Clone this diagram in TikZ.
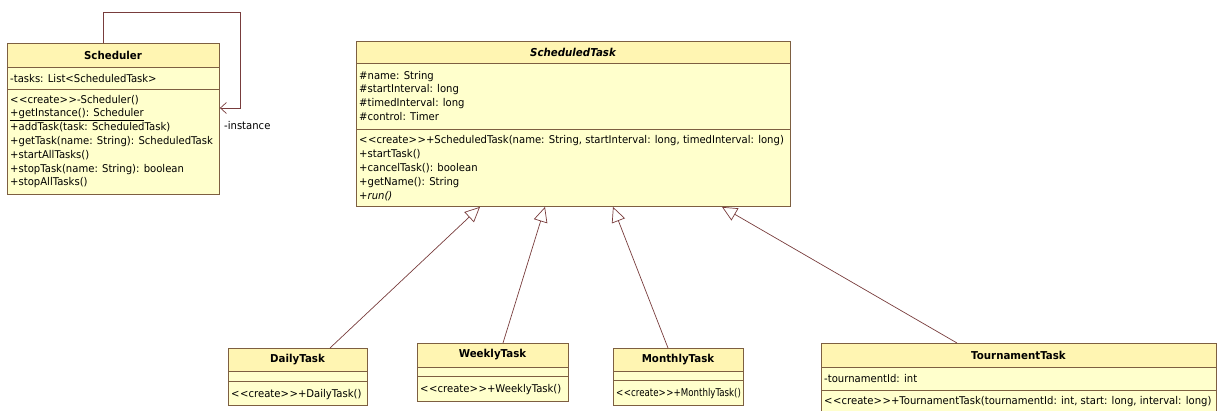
\documentclass[tikz,border=0pt]{standalone}
\usepackage{fontspec}
\setmainfont[FakeStretch=0.94]{DejaVu Sans}
\usetikzlibrary{arrows.meta,calc}
\definecolor{bodyfill}{RGB}{255,255,204}
\definecolor{titlefill}{RGB}{255,245,178}
\definecolor{boxline}{RGB}{125,95,65}
\definecolor{conn}{RGB}{120,60,60}
\newcommand\crt{\textless\kern0.6pt\textless create\textgreater\kern0.6pt\textgreater}
\tikzset{
  classbox/.style={draw=boxline, line width=0.9pt, fill=bodyfill, anchor=north west, inner sep=0pt},
  band/.style={fill=titlefill},
  sep/.style={draw=boxline, line width=0.9pt},
  ttl/.style={font=\fontsize{10.9}{12}\selectfont\bfseries, inner sep=0pt},
  txt/.style={font=\fontsize{10.7}{13.8}\selectfont, inner sep=0pt, anchor=base west, align=left},
  gen/.style={draw=conn, line width=0.7pt, -{Triangle[open, length=15pt, width=14pt]}},
  assoc/.style={draw=conn, line width=0.7pt, -{Straight Barb[length=6pt, width=11pt]}},
}
\begin{document}
\begin{tikzpicture}[x=1pt,y=-1pt]
\useasboundingbox (0,0) rectangle (1218,410);
% ---------- Scheduler ----------
\node[classbox, minimum width=212pt, minimum height=151pt] (sched) at (7,43) {};
\fill[band] (sched.north west) rectangle ($(sched.north east)+(0,24)$);
\draw[sep] ($(sched.north west)+(0,24)$) -- ($(sched.north east)+(0,24)$);
\draw[sep] ($(sched.north west)+(0,46)$) -- ($(sched.north east)+(0,46)$);
\draw[sep] (sched.north west) rectangle (sched.south east);
\node[ttl] (schedT) at (113,55) {Scheduler};
\node[txt] (schedA) at (10,82) {-tasks: List\textless ScheduledTask\textgreater};
% base anchor = baseline of the last line
\node[txt] (schedM) at (10,185.8) {\crt-Scheduler()\\
\underline{+getInstance(): Scheduler}\\
+addTask(task: ScheduledTask)\\
+getTask(name: String): ScheduledTask\\
+startAllTasks()\\
+stopTask(name: String): boolean\\
+stopAllTasks()};
% self association
\coordinate (loopR) at (240,12);
\draw[assoc] ($(sched.north west)+(96,0)$) |- (loopR) |- ($(sched.north east)+(0,65)$);
\node[txt, anchor=west] (inst) at (224,126) {-instance};
% ---------- ScheduledTask ----------
\node[classbox, minimum width=434pt, minimum height=165pt] (st) at (356,41) {};
\fill[band] (st.north west) rectangle ($(st.north east)+(0,22)$);
\draw[sep] ($(st.north west)+(0,22)$) -- ($(st.north east)+(0,22)$);
\draw[sep] ($(st.north west)+(0,88)$) -- ($(st.north east)+(0,88)$);
\draw[sep] (st.north west) rectangle (st.south east);
\node[ttl] (stT) at (573,52) {\itshape ScheduledTask};
\node[txt, font=\fontsize{10.7}{13.7}\selectfont] (stA) at (359,120.1) {\#name: String\\
\#startInterval: long\\
\#timedInterval: long\\
\#control: Timer};
\node[txt, font=\fontsize{10.7}{14}\selectfont] (stM) at (359,199) {\crt+ScheduledTask(name: String, startInterval: long, timedInterval: long)\\
+startTask()\\
+cancelTask(): boolean\\
+getName(): String\\
\textit{+run()}};
% ---------- DailyTask ----------
\node[classbox, minimum width=139pt, minimum height=57pt] (daily) at (228,348) {};
\fill[band] (daily.north west) rectangle ($(daily.north east)+(0,23)$);
\draw[sep] ($(daily.north west)+(0,23)$) -- ($(daily.north east)+(0,23)$);
\draw[sep] ($(daily.north west)+(0,33)$) -- ($(daily.north east)+(0,33)$);
\draw[sep] (daily.north west) rectangle (daily.south east);
\node[ttl] (dailyT) at (297.5,359.5) {DailyTask};
\node[txt] (dailyM) at (231,397) {\crt+DailyTask()};
% ---------- WeeklyTask ----------
\node[classbox, minimum width=151pt, minimum height=58pt] (weekly) at (417,343) {};
\fill[band] (weekly.north west) rectangle ($(weekly.north east)+(0,24)$);
\draw[sep] ($(weekly.north west)+(0,24)$) -- ($(weekly.north east)+(0,24)$);
\draw[sep] ($(weekly.north west)+(0,33)$) -- ($(weekly.north east)+(0,33)$);
\draw[sep] (weekly.north west) rectangle (weekly.south east);
\node[ttl] (weeklyT) at (492.5,355) {WeeklyTask};
\node[txt] (weeklyM) at (420,392.5) {\crt+WeeklyTask()};
% ---------- MonthlyTask ----------
\node[classbox, minimum width=130pt, minimum height=57pt] (monthly) at (613,348) {};
\fill[band] (monthly.north west) rectangle ($(monthly.north east)+(0,23)$);
\draw[sep] ($(monthly.north west)+(0,23)$) -- ($(monthly.north east)+(0,23)$);
\draw[sep] ($(monthly.north west)+(0,32)$) -- ($(monthly.north east)+(0,32)$);
\draw[sep] (monthly.north west) rectangle (monthly.south east);
\node[ttl] (monthlyT) at (678,359.5) {MonthlyTask};
\node[txt, xscale=0.86, transform shape] (monthlyM) at (616,396.5) {\crt+MonthlyTask()};
% ---------- TournamentTask ----------
\node[classbox, minimum width=395pt, minimum height=69pt] (tour) at (821,343) {};
\fill[band] (tour.north west) rectangle ($(tour.north east)+(0,24)$);
\draw[sep] ($(tour.north west)+(0,24)$) -- ($(tour.north east)+(0,24)$);
\draw[sep] ($(tour.north west)+(0,47)$) -- ($(tour.north east)+(0,47)$);
\draw[sep] (tour.north west) rectangle (tour.south east);
\node[ttl] (tourT) at (1018.5,355) {TournamentTask};
\node[txt] (tourA) at (824,382.5) {-tournamentId: int};
\node[txt] (tourM) at (824,404) {\crt+TournamentTask(tournamentId: int, start: long, interval: long)};
% ---------- generalizations ----------
\draw[gen] ($(daily.north west)+(102,0)$) -- ($(st.south west)+(124,0)$);
\draw[gen] ($(weekly.north west)+(86,0)$) -- ($(st.south west)+(189,0)$);
\draw[gen] ($(monthly.north west)+(55,0)$) -- ($(st.south west)+(257,0)$);
\draw[gen] ($(tour.north west)+(136,0)$) -- ($(st.south west)+(366,0)$);
\end{tikzpicture}
\end{document}
